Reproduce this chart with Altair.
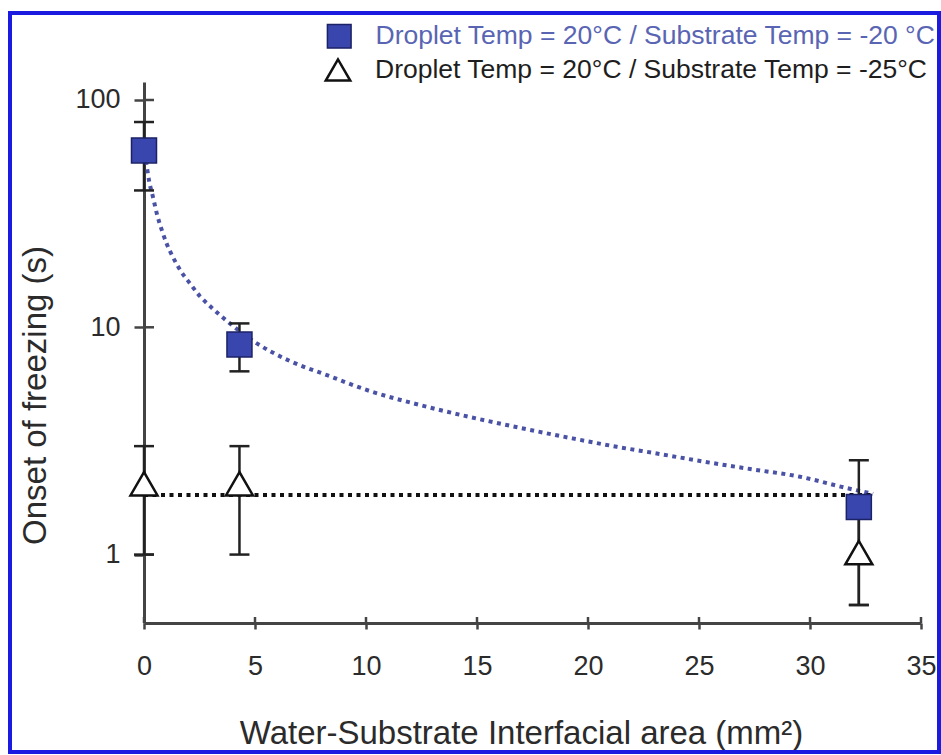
import altair as alt
import pandas as pd

# ---- data ----
series = ["Droplet Temp = 20°C / Substrate Temp = -20 °C",
          "Droplet Temp = 20°C / Substrate Temp = -25°C"]

sq_x = [0, 4.3, 32.2]
sq_y = [60, 8.4, 1.62]
sq_lo = [40, 6.4, 0.6]
sq_hi = [80, 10.4, 2.6]

tri_x = [0, 4.3, 32.2]
tri_y = [2.05, 2.05, 1.02]
tri_lo = [1.0, 1.0, 0.6]
tri_hi = [3.0, 3.0, 1.6]

fit_sq_x = [0.09, 0.23, 0.41, 0.59, 0.81, 1.04, 1.31, 1.67, 2.07, 2.52, 2.97, 3.87, 5.0,
            6.58, 8.24, 10.18, 12.43, 14.68, 16.94, 19.19, 21.3, 23.24, 25.05, 27.3,
            29.55, 31.67, 32.84]
fit_sq_y = [54, 44.1, 37.2, 31.3, 26.6, 23.1, 20.3, 17.6, 15.6, 13.7, 12.4, 10.4, 8.6,
            7.1, 6.16, 5.24, 4.55, 4.03, 3.61, 3.26, 2.98, 2.77, 2.58, 2.38,
            2.2, 1.96, 1.85]

fit_tri_x = [0, 32.9]
fit_tri_y = [1.83, 1.83]

x_ticks = [0, 5, 10, 15, 20, 25, 30, 35]
y_ticks = [1, 10, 100]

# ---- tables ----
sq = pd.DataFrame({"x": sq_x, "y": sq_y, "lo": sq_lo, "hi": sq_hi, "s": series[0]})
tri = pd.DataFrame({"x": tri_x, "y": tri_y, "lo": tri_lo, "hi": tri_hi, "s": series[1]})
err = pd.concat([sq, tri], ignore_index=True)
fit_sq = pd.DataFrame({"x": fit_sq_x, "y": fit_sq_y})
fit_tri = pd.DataFrame({"x": fit_tri_x, "y": fit_tri_y})
xt = pd.DataFrame({"x": x_ticks})
yt = pd.DataFrame({"y": y_ticks})
one = pd.DataFrame({"a": [0]})
leg2 = pd.DataFrame({"s": [series[1]]})

W, H = 777, 541
FONT = "Liberation Sans"
AX = "#444444"
TXT = "#2b2b2b"
LEG_FS = 26.5

xs = alt.Scale(domain=[0, 35], nice=False, zero=False)
ys = alt.Scale(type="log", domain=[0.5, 120], nice=False)

xaxis = alt.Axis(values=x_ticks, tickSize=6, tickWidth=2.5, tickColor=AX,
                 domainColor=AX, domainWidth=3, grid=False,
                 labelPadding=24, labelFontSize=27, labelFont=FONT, labelColor=TXT,
                 labelFlush=False, labelOverlap=False,
                 title="Water-Substrate Interfacial area (mm²)",
                 titleFont=FONT, titleFontSize=33, titleFontWeight="normal", titleColor=TXT,
                 titleX=377, titleY=120, titleBaseline="alphabetic", titleAlign="center")
yaxis = alt.Axis(values=y_ticks, format="d", tickSize=10, tickWidth=2.5, tickColor=AX,
                 domainColor=AX, domainWidth=3, grid=False,
                 labelPadding=14, labelFontSize=27, labelFont=FONT, labelColor=TXT,
                 labelBaseline="middle", labelFlush=False, labelOverlap=False,
                 title="Onset of freezing (s)",
                 titleFont=FONT, titleFontSize=33, titleFontWeight="normal", titleColor=TXT,
                 titleX=-99, titleY=313, titleAngle=270, titleBaseline="alphabetic",
                 titleAlign="center")

X = alt.X("x:Q", scale=xs, axis=xaxis)
Y = alt.Y("y:Q", scale=ys, axis=yaxis)

blue_line = alt.Chart(fit_sq).mark_line(color="#4a52a6", strokeWidth=4,
                                        strokeDash=[4, 4.5], interpolate="monotone").encode(x=X, y=Y)
black_line = alt.Chart(fit_tri).mark_line(color="#111111", strokeWidth=4,
                                          strokeDash=[4, 4.5]).encode(x=X, y=Y)

err_rule = alt.Chart(err).mark_rule(color="#222222", strokeWidth=2.5).encode(
    x=X, y=alt.Y("lo:Q", scale=ys, axis=yaxis), y2="hi:Q")
cap_lo = alt.Chart(err).mark_tick(color="#222222", orient="horizontal", size=20,
                                  thickness=2.5, opacity=1).encode(
    x=X, y=alt.Y("lo:Q", scale=ys, axis=yaxis))
cap_hi = alt.Chart(err).mark_tick(color="#222222", orient="horizontal", size=20,
                                  thickness=2.5, opacity=1).encode(
    x=X, y=alt.Y("hi:Q", scale=ys, axis=yaxis))

tri_pts = alt.Chart(tri).mark_point(shape="triangle-up", filled=True, fill="white",
                                    stroke="#111111", strokeWidth=2.5, size=729,
                                    opacity=1).encode(x=X, y=Y)

sq_pts = alt.Chart(sq).mark_point(shape="square", filled=True, stroke="#1c2266",
                                  strokeWidth=1.5, size=625, opacity=1).encode(
    x=X, y=Y,
    color=alt.Color("s:N", scale=alt.Scale(domain=[series[0]], range=["#3946ad"]),
                    legend=alt.Legend(title=None, orient="none", legendX=182, legendY=-59,
                                      padding=0, symbolType="square", symbolSize=560,
                                      symbolStrokeColor="#1c2266", symbolStrokeWidth=1.5,
                                      symbolOpacity=1,
                                      labelFont=FONT, labelFontSize=LEG_FS, labelColor="#5965b3",
                                      labelOffset=23, labelLimit=0)))

# second legend entry (open triangle)
leg2_sym = alt.Chart(leg2).mark_point(shape="triangle-up", filled=True, fill="white",
                                      stroke="#111111", strokeWidth=2.5, size=600,
                                      opacity=1).encode(
    x=alt.value(338 - 144), y=alt.value(70 - 82))
leg2_txt = alt.Chart(leg2).mark_text(align="left", baseline="middle", font=FONT,
                                     fontSize=LEG_FS, color="#1e1e1e").encode(
    x=alt.value(375 - 144), y=alt.value(70 - 82), text="s:N")

# inward halves of the crossing ticks
y_in = alt.Chart(yt).mark_rule(color=AX, strokeWidth=2.5).encode(
    y=Y, x=alt.value(0), x2=alt.value(10))
x_in = alt.Chart(xt).mark_rule(color=AX, strokeWidth=2.5).encode(
    x=X, y=alt.value(H - 6), y2=alt.value(H))

border = alt.Chart(one).mark_rect(filled=False, stroke="#1a1ae0", strokeWidth=4).encode(
    x=alt.value(10 - 144), x2=alt.value(939 - 144),
    y=alt.value(13 - 82), y2=alt.value(752 - 82))

chart = alt.layer(
    border, y_in, x_in, blue_line, black_line, err_rule, cap_lo, cap_hi, tri_pts, sq_pts,
    leg2_sym, leg2_txt
).properties(
    width=W, height=H,
    autosize=alt.AutoSizeParams(type="none"),
    padding={"left": 144, "top": 82, "right": 20, "bottom": 132},
    background="white",
).configure_view(stroke=None)

chart.save("out.html", embed_options={"renderer": "svg", "actions": False})
